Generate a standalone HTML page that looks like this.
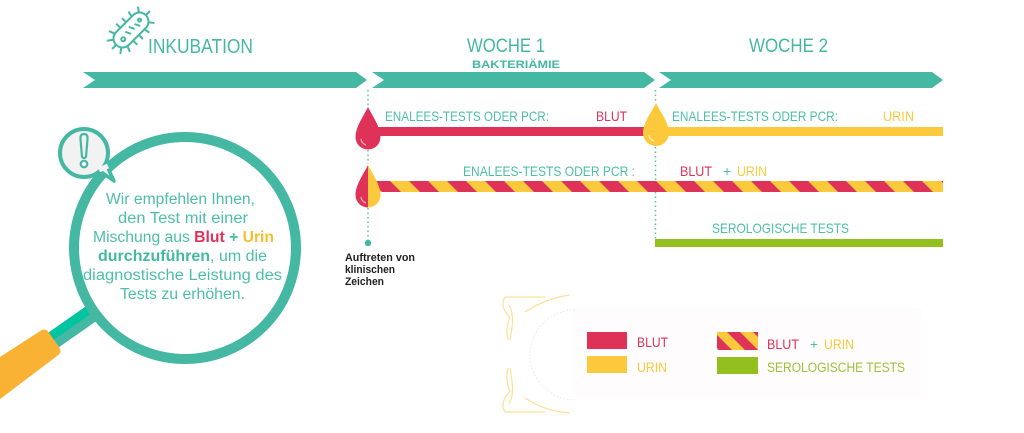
<!DOCTYPE html>
<html><head><meta charset="utf-8"><style>
html,body{margin:0;padding:0;background:#fff;}
svg{display:block;}
text{font-family:"Liberation Sans",sans-serif;}
</style></head><body>
<svg width="1024" height="433" viewBox="0 0 1024 433" xmlns="http://www.w3.org/2000/svg">
<defs>
<pattern id="st" patternUnits="userSpaceOnUse" width="38" height="200" patternTransform="skewX(45)">
<rect x="0" y="0" width="38" height="200" fill="#fdc93c"/>
<rect x="0" y="0" width="19" height="200" fill="#df3259"/>
</pattern>
<pattern id="st2" patternUnits="userSpaceOnUse" width="26" height="200" patternTransform="translate(5,0) skewX(45)">
<rect x="0" y="0" width="26" height="200" fill="#fdc93c"/>
<rect x="0" y="0" width="13" height="200" fill="#df3259"/>
</pattern>
<clipPath id="lh"><rect x="340" y="150" width="28" height="70"/></clipPath>
<clipPath id="rh"><rect x="368" y="150" width="28" height="70"/></clipPath>
</defs>

<!-- legend background decoration -->
<rect x="572" y="308" width="350" height="90" fill="#fefcfc"/>
<path d="M575 310 A45 45 0 0 0 575 400" fill="none" stroke="#e2ecea" stroke-width="1" stroke-dasharray="1.5 2"/>
<g fill="none" stroke="#fcd46a" stroke-width="1.2" opacity="0.7">
<path d="M505 297 L545 297 M505 297 C500 305 505 312 510 318 C507 324 506 332 508 340"/>
<path d="M525 312 C540 302 555 297 570 295"/>
<path d="M509 305 C515 315 512 330 510 340"/>
<path d="M505 412 L545 412 M505 412 C500 404 505 397 510 391 C507 385 506 377 508 368"/>
<path d="M525 398 C540 408 555 412 570 413"/>
<path d="M509 404 C515 394 512 380 510 368"/>
</g>

<!-- bacterium icon -->
<g transform="translate(131,30) rotate(-45)" stroke="#45b8a3" stroke-width="2" fill="none" stroke-linecap="round">
<rect x="-21" y="-9" width="42" height="18" rx="9"/>
<path d="M-14 -9 L-16 -14 M-6 -9 L-6 -14 M2 -9 L2 -14 M10 -9 L11 -14 M18 -7 L21 -11 M-14 9 L-16 14 M-6 9 L-6 14 M2 9 L2 14 M10 9 L11 14 M18 7 L21 11 M21 0 L26 0 M-21 0 L-26 0 M-20 -6 L-24 -9 M-20 6 L-24 9"/>
<circle cx="-12" cy="1" r="2"/>
<path d="M-5 -2 L-3 2 M1 -3 L3 1 M7 -1 L9 3"/>
<circle cx="13" cy="-1" r="1.5"/>
</g>

<!-- headings -->
<text x="148" y="53" font-size="20" fill="#45b8a3" textLength="105" lengthAdjust="spacingAndGlyphs">INKUBATION</text>
<text x="467" y="52" font-size="19" fill="#45b8a3" textLength="78" lengthAdjust="spacingAndGlyphs">WOCHE 1</text>
<text x="472" y="68" font-size="11" font-weight="bold" fill="#45b8a3" textLength="88" lengthAdjust="spacingAndGlyphs">BAKTERIÄMIE</text>
<text x="749" y="52" font-size="19" fill="#45b8a3" textLength="79" lengthAdjust="spacingAndGlyphs">WOCHE 2</text>

<!-- arrows -->
<polygon points="83,72 356,72 367,80 356,88 83,88 95,80" fill="#45b8a3"/>
<polygon points="372,72 644,72 655,80 644,88 372,88 384,80" fill="#45b8a3"/>
<polygon points="659,72 932,72 943,80 932,88 659,88 671,80" fill="#45b8a3"/>

<!-- dotted lines -->
<g stroke="#5bbfab" stroke-width="1.5" stroke-dasharray="1.5 3" fill="none">
<line x1="368" y1="90" x2="368" y2="106"/>
<line x1="368" y1="150" x2="368" y2="164"/>
<line x1="368" y1="208" x2="368" y2="241"/>
<line x1="655.5" y1="90" x2="655.5" y2="103"/>
<line x1="655.5" y1="147" x2="655.5" y2="240"/>
</g>
<circle cx="368" cy="243" r="3.2" fill="#45b8a3"/>

<!-- bars -->
<rect x="368" y="127" width="288" height="9" fill="#df3259"/>
<rect x="656" y="127" width="287" height="9" fill="#fdc93c"/>
<rect x="368" y="181" width="575" height="11" fill="url(#st)"/>
<rect x="655" y="239" width="288" height="8" fill="#93c01f"/>

<!-- drops -->
<path d="M368 107 C363 117 355.5 127 355.5 137 A12.5 12.5 0 0 0 380.5 137 C380.5 127 373 117 368 107 Z" fill="#df3259"/>
<path d="M361 139 A7 7 0 0 0 366 145" stroke="#f6a9ba" stroke-width="1.3" fill="none"/>
<path d="M656 103 C651 113 643 123 643 133 A13 13 0 0 0 669 133 C669 123 661 113 656 103 Z" fill="#fdc93c"/>
<path d="M649 135 A7 7 0 0 0 654 141" stroke="#fff0c0" stroke-width="1.3" fill="none"/>
<g clip-path="url(#lh)"><path d="M368 165 C363 175 355.5 185 355.5 195 A12.5 12.5 0 0 0 380.5 195 C380.5 185 373 175 368 165 Z" fill="#df3259"/></g>
<g clip-path="url(#rh)"><path d="M368 165 C363 175 355.5 185 355.5 195 A12.5 12.5 0 0 0 380.5 195 C380.5 185 373 175 368 165 Z" fill="#fdc93c"/></g>
<path d="M361 197 A7 7 0 0 0 366 203" stroke="#f6a9ba" stroke-width="1.3" fill="none"/>

<!-- row labels -->
<g font-size="14" fill="#4dbfa8">
<text x="385" y="121" textLength="164" lengthAdjust="spacingAndGlyphs">ENALEES-TESTS ODER PCR:</text>
<text x="672" y="121" textLength="166" lengthAdjust="spacingAndGlyphs">ENALEES-TESTS ODER PCR:</text>
<text x="463" y="176" textLength="172" lengthAdjust="spacingAndGlyphs">ENALEES-TESTS ODER PCR :</text>
<text x="723" y="176">+</text>
<text x="712" y="233" textLength="137" lengthAdjust="spacingAndGlyphs">SEROLOGISCHE TESTS</text>
</g>
<text x="596" y="121" font-size="14" fill="#df3259" textLength="31" lengthAdjust="spacingAndGlyphs">BLUT</text>
<text x="883" y="121" font-size="14" fill="#fdc93c" textLength="31" lengthAdjust="spacingAndGlyphs">URIN</text>
<text x="680" y="176" font-size="14" fill="#df3259" textLength="32" lengthAdjust="spacingAndGlyphs">BLUT</text>
<text x="737" y="176" font-size="14" fill="#fdc93c" textLength="30" lengthAdjust="spacingAndGlyphs">URIN</text>

<!-- Auftreten -->
<g font-size="11" font-weight="bold" fill="#222">
<text x="345" y="261" textLength="70" lengthAdjust="spacingAndGlyphs">Auftreten von</text>
<text x="345" y="273" textLength="50" lengthAdjust="spacingAndGlyphs">klinischen</text>
<text x="345" y="285" textLength="39" lengthAdjust="spacingAndGlyphs">Zeichen</text>
</g>

<!-- magnifier handle -->
<g transform="translate(185,248) rotate(145)">
<rect x="100" y="-9" width="62" height="18" fill="#45b8a3"/>
<rect x="100" y="0" width="62" height="9" fill="#00c4a0"/>
<path d="M166 -15 L300 -20 L300 20 L166 15 Q160 15 160 9 L160 -9 Q160 -15 166 -15 Z" fill="#f9b233"/>
</g>
<!-- magnifier ring -->
<circle cx="185" cy="248" r="111" fill="#fff" stroke="#45b8a3" stroke-width="10"/>

<!-- speech bubble -->
<path d="M100 171 L114 181 L106 164 Z" fill="#f2f2f2" stroke="#45b8a3" stroke-width="3.5" stroke-linejoin="round"/>
<circle cx="84" cy="153" r="24" fill="#f2f2f2" stroke="#45b8a3" stroke-width="4"/>
<path d="M99 170 L108 166" stroke="#f2f2f2" stroke-width="5"/>
<path d="M80.5 139 Q80 134 84 134 Q88 134 87.5 139 L86 157 Q84 159 82 157 Z" fill="#f2f2f2" stroke="#45b8a3" stroke-width="2.2" stroke-linejoin="round"/>
<circle cx="84" cy="164" r="3.3" fill="#f2f2f2" stroke="#45b8a3" stroke-width="2.2"/>

<!-- magnifier text -->
<g font-size="15.5" fill="#4dbfa8" text-anchor="start">
<text x="106" y="204" textLength="149" lengthAdjust="spacingAndGlyphs">Wir empfehlen Ihnen,</text>
<text x="118" y="223" textLength="130" lengthAdjust="spacingAndGlyphs">den Test mit einer</text>
<text x="93" y="242" textLength="181" lengthAdjust="spacingAndGlyphs">Mischung aus <tspan font-weight="bold" fill="#df3259">Blut</tspan><tspan font-weight="bold"> + </tspan><tspan font-weight="bold" fill="#fbbd2e">Urin</tspan></text>
<text x="98" y="261" textLength="169" lengthAdjust="spacingAndGlyphs"><tspan font-weight="bold" fill="#45b8a3">durchzuführen</tspan>, um die</text>
<text x="83" y="280" textLength="199" lengthAdjust="spacingAndGlyphs">diagnostische Leistung des</text>
<text x="120" y="299" textLength="125" lengthAdjust="spacingAndGlyphs">Tests zu erhöhen.</text>
</g>

<!-- legend -->
<rect x="587" y="332" width="40" height="17" fill="#df3259"/>
<rect x="587" y="356" width="40" height="17" fill="#fdc93c"/>
<rect x="717" y="332" width="41" height="18" fill="url(#st2)"/>
<rect x="717" y="357" width="41" height="17" fill="#93c01f"/>
<g font-size="13.5">
<text x="637" y="347" fill="#df3259" textLength="31" lengthAdjust="spacingAndGlyphs">BLUT</text>
<text x="637" y="372" fill="#fdc93c" textLength="30" lengthAdjust="spacingAndGlyphs">URIN</text>
<text x="767" y="349" fill="#df3259" textLength="32" lengthAdjust="spacingAndGlyphs">BLUT</text>
<text x="810" y="349" fill="#4dbfa8">+</text>
<text x="824" y="349" fill="#fdc93c" textLength="30" lengthAdjust="spacingAndGlyphs">URIN</text>
<text x="767" y="372" fill="#9bc43a" textLength="138" lengthAdjust="spacingAndGlyphs">SEROLOGISCHE TESTS</text>
</g>
</svg>
</body></html>
